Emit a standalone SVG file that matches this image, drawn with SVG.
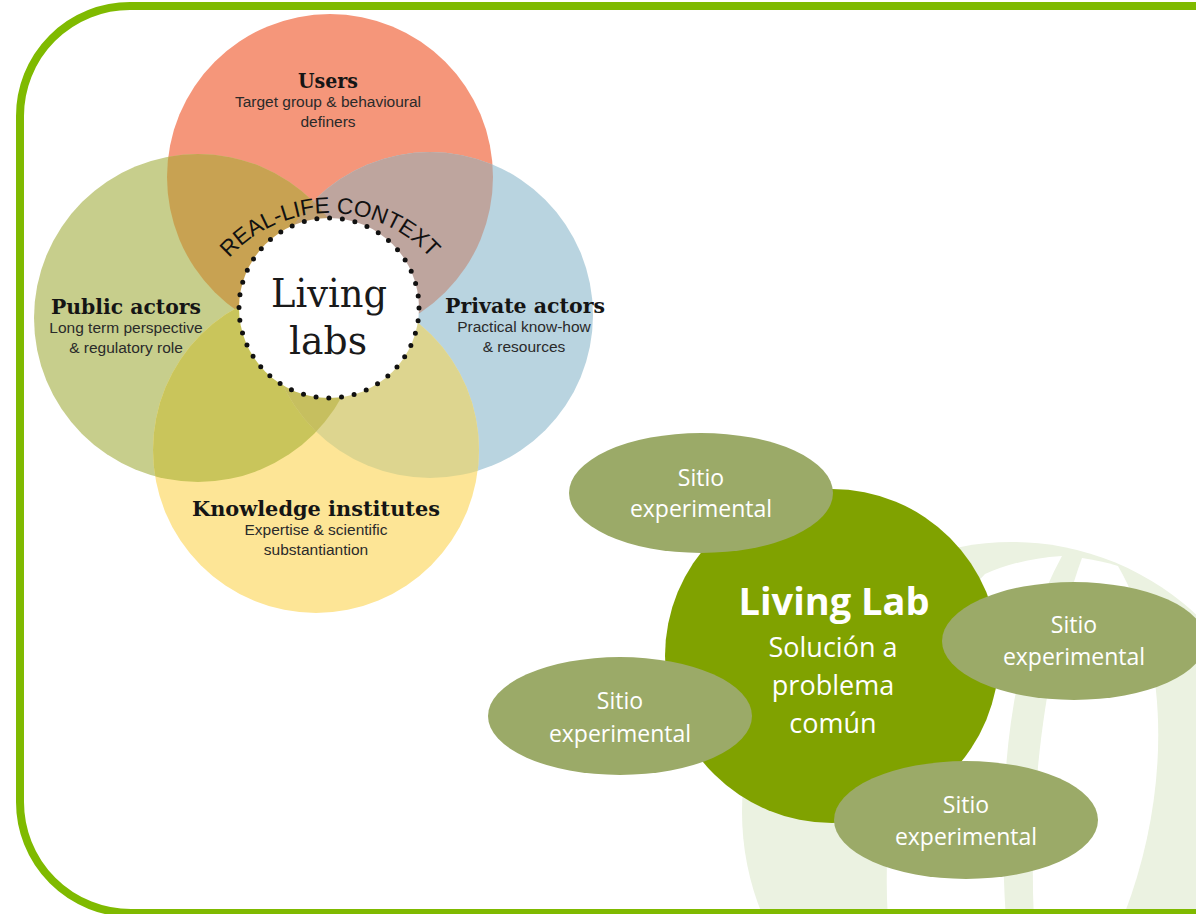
<svg xmlns="http://www.w3.org/2000/svg" width="1196" height="914" viewBox="0 0 1196 914">
<style>
.title{font-family:"DejaVu Serif",serif;font-weight:bold;font-size:20px;fill:#151515;text-anchor:middle}
.sub{font-family:"Liberation Sans",Arial,sans-serif;font-size:15.5px;fill:#2a2a2a;text-anchor:middle}
.site{font-family:"Open Sans",sans-serif;font-size:23px;fill:#fff;text-anchor:middle}
.siteshape{fill:#9baa68}
.wm{fill:#ebf2e1}
</style>
<defs>
<clipPath id="cU"><circle cx="330" cy="177" r="163"/></clipPath>
<clipPath id="cPub"><circle cx="198" cy="318" r="164"/></clipPath>
<clipPath id="cPri"><circle cx="430" cy="315" r="163"/></clipPath>
<clipPath id="cK"><circle cx="316" cy="450" r="163"/></clipPath>
<path id="arc" d="M 195 348 A 135 135 0 0 1 465 348"/>
</defs>
<rect width="1196" height="914" fill="#fff"/>

<!-- watermark -->
<g id="watermark">
<circle class="wm" cx="1012" cy="812" r="270"/>
<path fill="#fff" d="M 985 574 C 910 650 880 800 888 920 L 1006 920 C 998 800 1005 660 1062 556 C 1030 558 1005 565 985 574 Z"/>
<path fill="#fff" d="M 1082 558 C 1045 660 1028 800 1034 920 L 1122 920 C 1170 800 1172 660 1118 566 C 1105 562 1094 560 1082 558 Z"/>
</g>

<!-- Venn -->
<g id="node-users"><circle cx="330" cy="177" r="163" fill="#f5967a"/></g>
<g id="node-public"><circle cx="198" cy="318" r="164" fill="#c7ce8c"/></g>
<g id="node-private"><circle cx="430" cy="315" r="163" fill="#b9d4e0"/></g>
<g id="node-knowledge"><circle cx="316" cy="450" r="163" fill="#fde596"/></g>
<g id="overlaps">
<circle cx="198" cy="318" r="164" fill="#c8a252" clip-path="url(#cU)"/>
<circle cx="430" cy="315" r="163" fill="#bea59e" clip-path="url(#cU)"/>
<circle cx="198" cy="318" r="164" fill="#c9c55b" clip-path="url(#cK)"/>
<circle cx="430" cy="315" r="163" fill="#ddd58f" clip-path="url(#cK)"/>
<g clip-path="url(#cPri)"><circle cx="198" cy="318" r="164" fill="#c6bf5f" clip-path="url(#cK)"/></g>
<g clip-path="url(#cPri)"><circle cx="198" cy="318" r="164" fill="#c0a070" clip-path="url(#cU)"/></g>
</g>
<g id="venn-labels">
<text class="title" x="328" y="88" textLength="60" lengthAdjust="spacingAndGlyphs">Users</text>
<text class="sub" x="328" y="107">Target group &amp; behavioural</text>
<text class="sub" x="328" y="127">definers</text>
<text class="title" x="126" y="314" textLength="150" lengthAdjust="spacingAndGlyphs">Public actors</text>
<text class="sub" x="126" y="333">Long term perspective</text>
<text class="sub" x="126" y="353">&amp; regulatory role</text>
<text class="title" x="525" y="313" textLength="160" lengthAdjust="spacingAndGlyphs">Private actors</text>
<text class="sub" x="524" y="332">Practical know-how</text>
<text class="sub" x="524" y="352">&amp; resources</text>
<text class="title" x="316" y="516" textLength="248" lengthAdjust="spacingAndGlyphs">Knowledge institutes</text>
<text class="sub" x="316" y="535">Expertise &amp; scientific</text>
<text class="sub" x="316" y="555">substantiantion</text>
</g>
<g id="node-center">
<circle cx="329" cy="308" r="90" fill="#fff" stroke="#111" stroke-width="5" stroke-linecap="round" stroke-dasharray="0 12.85"/>
<text x="329" y="307" font-family="DejaVu Serif, serif" font-size="40" fill="#1a1a1a" text-anchor="middle" textLength="116" lengthAdjust="spacingAndGlyphs">Living</text>
<text x="328" y="354" font-family="DejaVu Serif, serif" font-size="40" fill="#1a1a1a" text-anchor="middle" textLength="78" lengthAdjust="spacingAndGlyphs">labs</text>
<text font-family="Liberation Sans, Arial, sans-serif" font-size="22.5" fill="#111"><textPath href="#arc" startOffset="50%" text-anchor="middle">REAL-LIFE CONTEXT</textPath></text>
</g>

<!-- Right diagram -->
<g id="node-livinglab">
<circle cx="832" cy="656" r="167" fill="#80a200"/>
<text x="834" y="615" font-family="Open Sans, sans-serif" font-weight="bold" font-size="38" fill="#fff" text-anchor="middle">Living Lab</text>
<text x="833" y="657" font-family="Open Sans, sans-serif" font-size="27" fill="#fff" text-anchor="middle">Solución a</text>
<text x="833" y="695" font-family="Open Sans, sans-serif" font-size="27" fill="#fff" text-anchor="middle">problema</text>
<text x="833" y="733" font-family="Open Sans, sans-serif" font-size="27" fill="#fff" text-anchor="middle">común</text>
</g>
<g id="node-site-top">
<ellipse class="siteshape" cx="701" cy="493" rx="132" ry="60"/>
<text class="site" x="701" y="486">Sitio</text>
<text class="site" x="701" y="517">experimental</text>
</g>
<g id="node-site-right">
<ellipse class="siteshape" cx="1074" cy="641" rx="132" ry="59"/>
<text class="site" x="1074" y="633">Sitio</text>
<text class="site" x="1074" y="665">experimental</text>
</g>
<g id="node-site-left">
<ellipse class="siteshape" cx="620" cy="716" rx="132" ry="59"/>
<text class="site" x="620" y="709">Sitio</text>
<text class="site" x="620" y="742">experimental</text>
</g>
<g id="node-site-bottom">
<ellipse class="siteshape" cx="966" cy="820" rx="132" ry="59"/>
<text class="site" x="966" y="813">Sitio</text>
<text class="site" x="966" y="845">experimental</text>
</g>
<g id="connectors"></g>

<!-- frame -->
<path id="frame" d="M 1200 6 H 130 A 110 110 0 0 0 20 116 V 802 A 111 111 0 0 0 131 913 H 1200" fill="none" stroke="#7fba00" stroke-width="8"/>
</svg>
